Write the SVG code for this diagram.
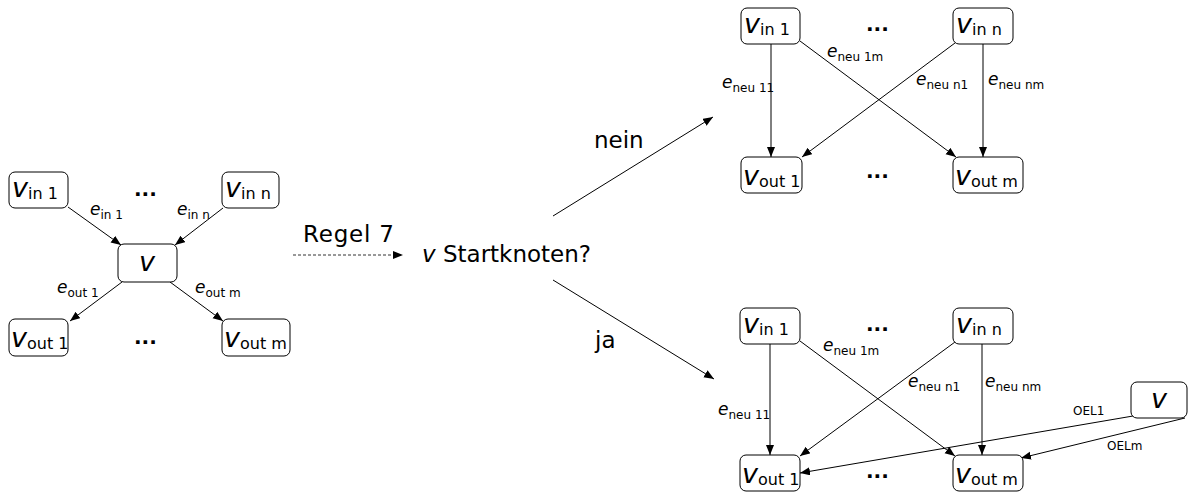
<svg xmlns="http://www.w3.org/2000/svg" width="1188" height="493" viewBox="0 0 1188 493">
<style>
.box{fill:#fff;stroke:#000;stroke-width:1}
.ln{fill:none;stroke:#000;stroke-width:1}
.nv{font-family:"DejaVu Sans",Verdana,sans-serif;font-style:italic;font-size:27px}
.ns{font-style:normal;font-size:16px}
.ev{font-family:"DejaVu Sans",Verdana,sans-serif;font-style:italic;font-size:17px}
.es{font-style:normal;font-size:12px}
.big{font-family:"DejaVu Sans",Verdana,sans-serif;font-size:23px}
.sm{font-family:"DejaVu Sans",Verdana,sans-serif;font-size:12px}
.dots{font-family:"DejaVu Sans",Verdana,sans-serif;font-size:20px;font-weight:bold}
</style>
<defs>
<marker id="ah" markerUnits="userSpaceOnUse" markerWidth="11" markerHeight="9" refX="10" refY="4" orient="auto">
<path d="M0,0 L10,4 L0,8 z" fill="#000"/>
</marker>
</defs>

<g id="connectors">
<line class="ln" x1="68" y1="207" x2="121" y2="245" marker-end="url(#ah)"/>
<line class="ln" x1="223" y1="208" x2="175" y2="245" marker-end="url(#ah)"/>
<line class="ln" x1="122" y1="282" x2="70" y2="321" marker-end="url(#ah)"/>
<line class="ln" x1="170" y1="282" x2="223" y2="321" marker-end="url(#ah)"/>
<line x1="293" y1="255" x2="403" y2="255" stroke="#333" stroke-width="1" stroke-dasharray="3,2" marker-end="url(#ah)"/>
<line class="ln" x1="553" y1="216" x2="713" y2="117" marker-end="url(#ah)"/>
<line class="ln" x1="553" y1="280" x2="714" y2="379" marker-end="url(#ah)"/>
<line class="ln" x1="771" y1="44" x2="771" y2="157" marker-end="url(#ah)"/>
<line class="ln" x1="983" y1="44" x2="983" y2="157" marker-end="url(#ah)"/>
<line class="ln" x1="800" y1="41" x2="956" y2="157" marker-end="url(#ah)"/>
<line class="ln" x1="955" y1="43" x2="802" y2="157" marker-end="url(#ah)"/>
<line class="ln" x1="770" y1="344" x2="770" y2="455" marker-end="url(#ah)"/>
<line class="ln" x1="982" y1="344" x2="982" y2="455" marker-end="url(#ah)"/>
<line class="ln" x1="800" y1="341" x2="955" y2="456" marker-end="url(#ah)"/>
<line class="ln" x1="955" y1="342" x2="800" y2="456" marker-end="url(#ah)"/>
<line class="ln" x1="1133" y1="416" x2="800" y2="473" marker-end="url(#ah)"/>
<line class="ln" x1="1185" y1="418" x2="1021" y2="458" marker-end="url(#ah)"/>
</g>

<g id="edge-labels">
<text class="ev" x="90" y="215">e<tspan class="es" dy="4">in 1</tspan></text>
<text class="ev" x="177" y="215">e<tspan class="es" dy="4">in n</tspan></text>
<text class="ev" x="57" y="293">e<tspan class="es" dy="4">out 1</tspan></text>
<text class="ev" x="195" y="293">e<tspan class="es" dy="4">out m</tspan></text>
<text class="ev" x="722" y="88">e<tspan class="es" dy="4">neu 11</tspan></text>
<text class="ev" x="827" y="57">e<tspan class="es" dy="4">neu 1m</tspan></text>
<text class="ev" x="916" y="85">e<tspan class="es" dy="4">neu n1</tspan></text>
<text class="ev" x="988" y="85">e<tspan class="es" dy="4">neu nm</tspan></text>
<text class="ev" x="718" y="415">e<tspan class="es" dy="4">neu 11</tspan></text>
<text class="ev" x="823" y="351">e<tspan class="es" dy="4">neu 1m</tspan></text>
<text class="ev" x="908" y="387">e<tspan class="es" dy="4">neu n1</tspan></text>
<text class="ev" x="985" y="387">e<tspan class="es" dy="4">neu nm</tspan></text>
<text class="sm" x="1073" y="415">OEL1</text>
<text class="sm" x="1107" y="450">OELm</text>
</g>

<g id="texts">
<text class="big" x="303" y="242" letter-spacing="0.8">Regel 7</text>
<text class="big" x="422" y="262"><tspan font-style="italic">v</tspan> Startknoten?</text>
<text class="big" x="594" y="148">nein</text>
<text class="big" x="595" y="348">ja</text>
<text class="dots" x="134" y="196">...</text>
<text class="dots" x="134" y="344">...</text>
<text class="dots" x="866" y="31">...</text>
<text class="dots" x="866" y="178">...</text>
<text class="dots" x="866" y="331">...</text>
<text class="dots" x="866" y="478">...</text>
</g>

<g id="left-vin1"><rect class="box" x="9" y="172" width="59" height="36" rx="6"/><text class="nv" x="12" y="197">v<tspan class="ns" dy="2">in 1</tspan></text></g>
<g id="left-vinn"><rect class="box" x="222" y="172" width="57" height="36" rx="6"/><text class="nv" x="225" y="197">v<tspan class="ns" dy="2">in n</tspan></text></g>
<g id="left-v"><rect class="box" x="118" y="244" width="59" height="38" rx="6"/><text class="nv" x="147" y="271" text-anchor="middle">v</text></g>
<g id="left-vout1"><rect class="box" x="9" y="319" width="59" height="37" rx="6"/><text class="nv" x="11" y="347">v<tspan class="ns" dy="2">out 1</tspan></text></g>
<g id="left-voutm"><rect class="box" x="222" y="319" width="68" height="37" rx="6"/><text class="nv" x="224" y="347">v<tspan class="ns" dy="2">out m</tspan></text></g>

<g id="top-vin1"><rect class="box" x="741" y="8" width="59" height="36" rx="6"/><text class="nv" x="744" y="33">v<tspan class="ns" dy="2">in 1</tspan></text></g>
<g id="top-vinn"><rect class="box" x="953" y="8" width="60" height="36" rx="6"/><text class="nv" x="956" y="33">v<tspan class="ns" dy="2">in n</tspan></text></g>
<g id="top-vout1"><rect class="box" x="741" y="157" width="61" height="36" rx="6"/><text class="nv" x="743" y="185">v<tspan class="ns" dy="2">out 1</tspan></text></g>
<g id="top-voutm"><rect class="box" x="953" y="157" width="70" height="36" rx="6"/><text class="nv" x="955" y="185">v<tspan class="ns" dy="2">out m</tspan></text></g>

<g id="bot-vin1"><rect class="box" x="740" y="308" width="60" height="36" rx="6"/><text class="nv" x="743" y="333">v<tspan class="ns" dy="2">in 1</tspan></text></g>
<g id="bot-vinn"><rect class="box" x="953" y="308" width="60" height="36" rx="6"/><text class="nv" x="956" y="333">v<tspan class="ns" dy="2">in n</tspan></text></g>
<g id="bot-vout1"><rect class="box" x="740" y="455" width="60" height="36" rx="6"/><text class="nv" x="742" y="483">v<tspan class="ns" dy="2">out 1</tspan></text></g>
<g id="bot-voutm"><rect class="box" x="953" y="455" width="70" height="36" rx="6"/><text class="nv" x="955" y="483">v<tspan class="ns" dy="2">out m</tspan></text></g>
<g id="bot-v"><rect class="box" x="1131" y="382" width="56" height="36" rx="6"/><text class="nv" x="1159" y="408" text-anchor="middle">v</text></g>
</svg>
